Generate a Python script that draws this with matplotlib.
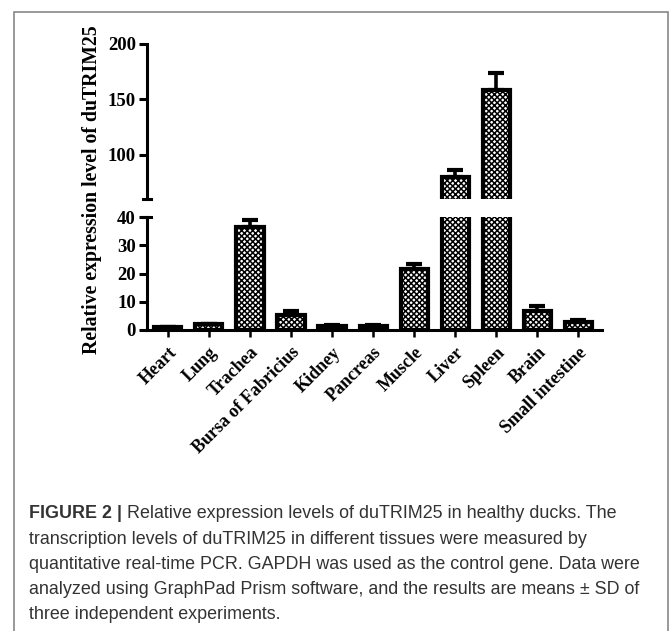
import matplotlib
matplotlib.use("Agg")
import matplotlib.pyplot as plt
from matplotlib.patches import Rectangle
from matplotlib.transforms import blended_transform_factory
import numpy as np

tissues = ["Heart", "Lung", "Trachea", "Bursa of Fabricius", "Kidney", "Pancreas",
           "Muscle", "Liver", "Spleen", "Brain", "Small intestine"]
means = [0.9, 2.0, 36.5, 5.3, 1.5, 1.5, 21.5, 80.0, 158.5, 6.7, 2.8]
sds = [0.2, 0.3, 2.3, 1.3, 0.4, 0.4, 1.9, 6.0, 15.5, 1.8, 0.9]
low_ticks = [0, 10, 20, 30, 40]
high_ticks = [100, 150, 200]
ylabel = "Relative expression level of duTRIM25"
caption_bold = "FIGURE 2 |"
caption_lines = [
    " Relative expression levels of duTRIM25 in healthy ducks. The",
    "transcription levels of duTRIM25 in different tissues were measured by",
    "quantitative real-time PCR. GAPDH was used as the control gene. Data were",
    "analyzed using GraphPad Prism software, and the results are means \u00b1 SD of",
    "three independent experiments.",
]

plt.rcParams["hatch.linewidth"] = 1.1

W, H = 672, 631
fig = plt.figure(figsize=(W / 100, H / 100), dpi=100)
serif = ["Liberation Serif", "DejaVu Serif"]

def fx(px):
    return px / W

def fy(py):
    return 1 - py / H

left, right = 147, 602
ax_lo = fig.add_axes([fx(left), fy(330), fx(right - left), (330 - 217) / H])
ax_hi = fig.add_axes([fx(left), fy(199), fx(right - left), (199 - 44) / H])

x = np.arange(len(tissues))
bw = 0.66
lw = 3.0
for ax in (ax_lo, ax_hi):
    ax.bar(x, means, width=bw, facecolor="white", edgecolor="black",
           linewidth=lw, hatch="xxxxxx", zorder=2)
    ax.errorbar(x, means, yerr=[np.zeros(len(sds)), sds], fmt="none",
                ecolor="black", elinewidth=2.6, capsize=5.5, capthick=3.0, zorder=1)
    ax.set_xlim(-0.51, 10.58)
    for s in ("top", "right"):
        ax.spines[s].set_visible(False)
    ax.spines["left"].set_linewidth(2.2)
    ax.tick_params(axis="y", direction="out", length=6, width=2.2, labelsize=13.5, pad=2)
    ax.patch.set_alpha(0)

ax_lo.set_ylim(0, 40)
ax_lo.set_yticks(low_ticks)
ax_lo.spines["bottom"].set_linewidth(2.2)
ax_lo.set_xticks(x)
ax_lo.set_xticklabels(tissues, rotation=45, ha="right", rotation_mode="anchor",
                      fontsize=13, fontweight="bold", fontfamily=serif)
ax_lo.tick_params(axis="x", direction="out", length=5, width=1.8, pad=5)

ax_hi.set_ylim(60, 200)
ax_hi.set_yticks(high_ticks)
ax_hi.spines["bottom"].set_visible(False)
ax_hi.set_xticks([])

for ax in (ax_lo, ax_hi):
    for lab in ax.get_yticklabels():
        lab.set_fontweight("bold")
        lab.set_fontfamily(serif)

# axis-break marks
for ax, yv in ((ax_hi, 60), (ax_lo, 40)):
    tr = blended_transform_factory(ax.transAxes, ax.transData)
    ax.add_line(plt.Line2D([-0.009, 0.009], [yv, yv], transform=tr, color="black",
                           lw=2.2, clip_on=False))

fig.text(fx(92), fy(190), ylabel, rotation=90, ha="center", va="center",
         fontsize=14.2, fontweight="bold", fontfamily=serif)

# border
fig.add_artist(Rectangle((fx(14), fy(640)), fx(668 - 14), (640 - 12) / H,
                         transform=fig.transFigure, fill=False, edgecolor="#888888",
                         linewidth=1.2))

# caption
cap_font = ["Liberation Sans", "DejaVu Sans"]
cap_col = "#333333"
cap_size = 12.9
y0 = 514
dy = 25.2
t_b = fig.text(fx(29), fy(y0), caption_bold, fontsize=cap_size, fontweight="bold",
               fontfamily=cap_font, color=cap_col, va="center", ha="left")
fig.canvas.draw()
bb = t_b.get_window_extent(fig.canvas.get_renderer())
fig.text(bb.x1 / W, fy(y0), caption_lines[0], fontsize=cap_size, fontfamily=cap_font,
         color=cap_col, va="center", ha="left")
for i, line in enumerate(caption_lines[1:], start=1):
    fig.text(fx(29), fy(y0 + dy * i), line, fontsize=cap_size, fontfamily=cap_font,
             color=cap_col, va="center", ha="left")

fig.savefig("out.png", dpi=100)
